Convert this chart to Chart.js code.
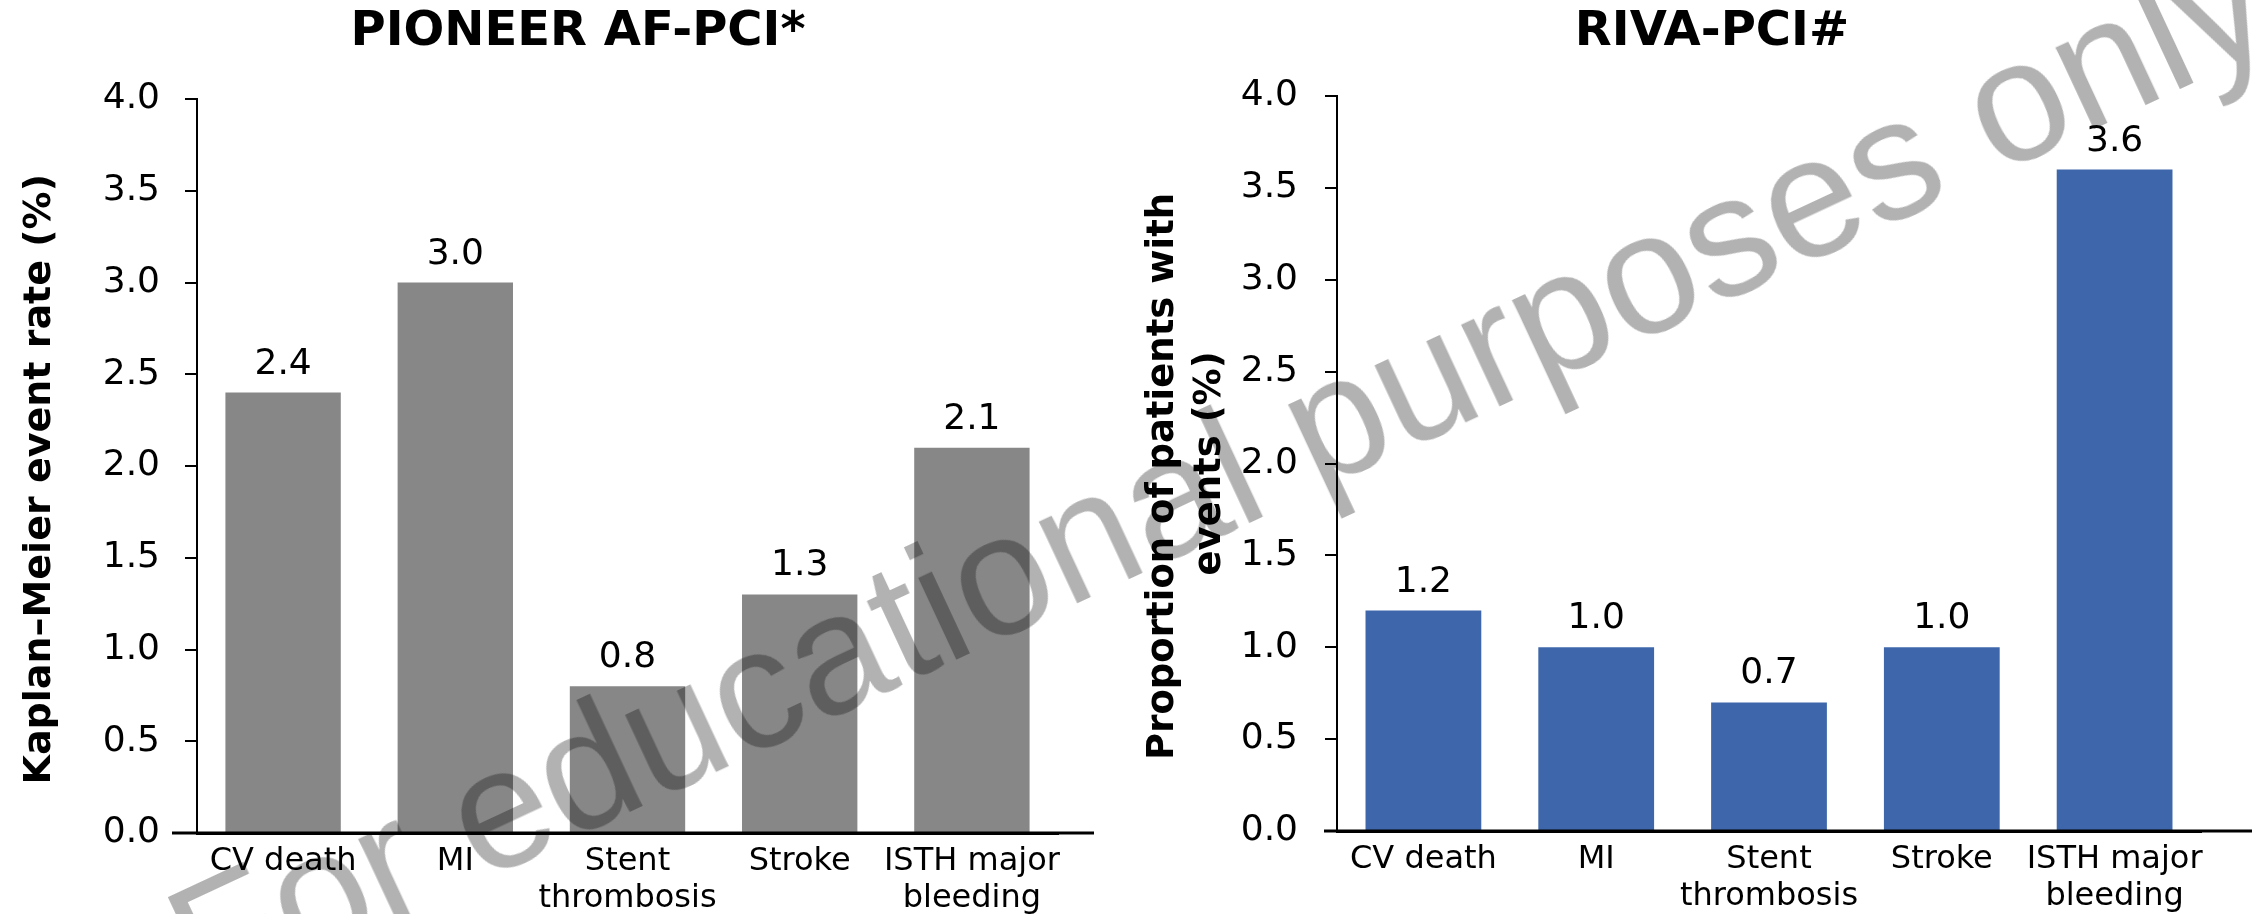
<!DOCTYPE html>
<html>
<head>
<meta charset="utf-8">
<script src="https://cdn.jsdelivr.net/npm/chart.js@4.4.0/dist/chart.umd.min.js"></script>
<style>
  html, body { margin: 0; padding: 0; background: #ffffff; overflow: hidden; width: 2252px; height: 914px; }
  #c1 { position: absolute; left: 0; top: 0; }
  #c2 { position: absolute; left: 1120px; top: 0; }
  #wm {
    position: absolute; left: 1218px; top: 472px;
    transform: translate(-50%, -50%) rotate(-25deg);
    font-family: "Liberation Sans", Arial, sans-serif; font-size: 171px; line-height: 1;
    white-space: nowrap; color: rgba(0, 0, 0, 0.3); pointer-events: none;
  }
</style>
</head>
<body>
<canvas id="c1" width="1156" height="914"></canvas>
<canvas id="c2" width="1184" height="914"></canvas>
<div id="wm">For educational purposes only</div>
<script>
// ---------- data ----------
const categories = [["CV death"], ["MI"], ["Stent", "thrombosis"], ["Stroke"], ["ISTH major", "bleeding"]];
const pioneerValues = [2.4, 3.0, 0.8, 1.3, 2.1];
const rivaValues = [1.2, 1.0, 0.7, 1.0, 3.6];
const yMin = 0;
const yMax = 4;
const yStep = 0.5;
const pioneerTitle = "PIONEER AF-PCI*";
const rivaTitle = "RIVA-PCI#";
const pioneerYTitle = "Kaplan–Meier event rate (%)";
const rivaYTitle = ["Proportion of patients with", "events (%)"];

// ---------- styles ----------
const FONT = "DejaVu Sans";
const GRAY = "#878787";
const BLUE = "#3e67ab";

Chart.defaults.font.family = FONT;
Chart.defaults.color = "#000";
Chart.defaults.animation = false;

const valueLabels = {
  id: "valueLabels",
  afterDatasetsDraw(chart, args, opts) {
    const ctx = chart.ctx;
    chart.data.datasets.forEach((ds, i) => {
      chart.getDatasetMeta(i).data.forEach((bar, j) => {
        ctx.save();
        ctx.font = opts.size + "px \"" + FONT + "\"";
        ctx.fillStyle = "#000";
        ctx.textAlign = "center";
        ctx.textBaseline = "alphabetic";
        ctx.fillText(Number(ds.data[j]).toFixed(1), bar.x, bar.y - opts.gap);
        ctx.restore();
      });
    });
  }
};

const axisExtend = {
  id: "axisExtend",
  afterDraw(chart, args, opts) {
    const ctx = chart.ctx, area = chart.chartArea;
    const y = chart.scales.y.getPixelForValue(0);
    ctx.save();
    ctx.strokeStyle = "#000";
    ctx.lineWidth = opts.width;
    ctx.beginPath();
    ctx.moveTo(area.left - opts.left, y);
    ctx.lineTo(area.right + opts.right, y);
    ctx.stroke();
    ctx.restore();
  }
};

function makeChart(id, values, color, title, yTitle, geo) {
  return new Chart(document.getElementById(id), {
    type: "bar",
    data: {
      labels: categories,
      datasets: [{
        data: values,
        backgroundColor: color,
        borderWidth: 0,
        categoryPercentage: 1.0,
        barPercentage: 0.67
      }]
    },
    plugins: [valueLabels, axisExtend],
    options: {
      responsive: false,
      maintainAspectRatio: false,
      layout: { padding: 0 },
      plugins: {
        legend: { display: false },
        tooltip: { enabled: false },
        title: {
          display: true,
          text: title,
          color: "#000",
          font: { family: FONT, size: 48, weight: "bold", lineHeight: 1.2 },
          padding: { top: 4, bottom: geo.titleBottom }
        },
        valueLabels: { size: 36, gap: 19 },
        axisExtend: { width: 3, left: geo.extLeft, right: geo.extRight }
      },
      scales: {
        x: {
          offset: true,
          grid: { display: false, drawTicks: false },
          border: { display: true, color: "#000", width: 3 },
          ticks: {
            color: "#000",
            font: { family: FONT, size: 32, lineHeight: 1.15 },
            padding: 10,
            maxRotation: 0,
            autoSkip: false
          },
          afterFit: (s) => { s.height = geo.xHeight; }
        },
        y: {
          min: yMin,
          max: yMax,
          ticks: {
            stepSize: yStep,
            color: "#000",
            font: { family: FONT, size: 36 },
            padding: geo.tickPad,
            callback: (v) => Number(v).toFixed(1)
          },
          grid: { drawOnChartArea: false, drawTicks: true, tickLength: 12, color: "#000", lineWidth: 2 },
          border: { display: true, color: "#000", width: 2 },
          title: {
            display: true,
            text: yTitle,
            color: "#000",
            font: { family: FONT, size: geo.yTitleSize, weight: "bold", lineHeight: geo.yTitleLH },
            padding: { top: geo.yTitlePadTop, bottom: 0 }
          },
          afterFit: (s) => { s.width = geo.yWidth; }
        },
        yPad: {
          type: "linear",
          position: "right",
          grid: { display: false, drawTicks: false },
          border: { display: false },
          ticks: { display: false },
          afterFit: (s) => { s.width = geo.rightPad; }
        }
      }
    }
  });
}

const c1 = makeChart("c1", pioneerValues, GRAY, pioneerTitle, pioneerYTitle + "  ", {
  rightPad: 98, titleBottom: 37.4, extLeft: 25, extRight: 36, xHeight: 81,
  tickPad: 25, yTitleSize: 38, yTitleLH: 1.1, yTitlePadTop: 19, yWidth: 197
});
const c2 = makeChart("c2", rivaValues, BLUE, rivaTitle, [rivaYTitle[0] + "  ", rivaYTitle[1]], {
  rightPad: 103, titleBottom: 34.4, extLeft: 13, extRight: 140, xHeight: 83,
  tickPad: 27, yTitleSize: 37, yTitleLH: 1.27, yTitlePadTop: 20, yWidth: 217
});
</script>
</body>
</html>
